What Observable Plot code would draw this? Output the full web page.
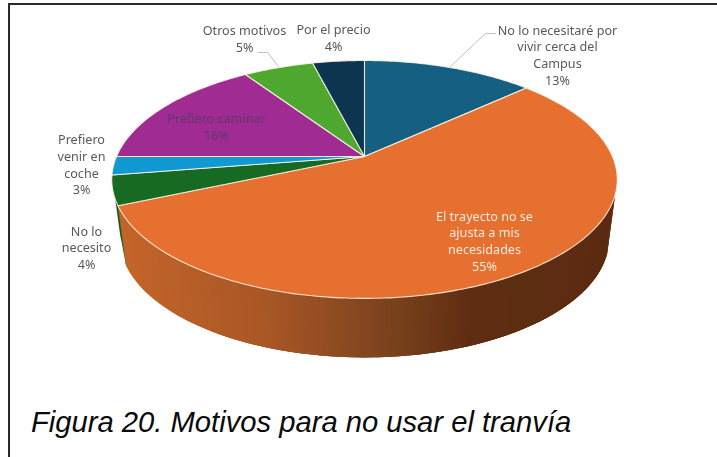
<!DOCTYPE html>
<html><head><meta charset="utf-8">
<script src="https://cdn.jsdelivr.net/npm/d3@7"></script>
<script src="https://cdn.jsdelivr.net/npm/@observablehq/plot@0.6"></script>
<style>
html,body{margin:0;padding:0;background:#fff;width:717px;height:457px;overflow:hidden}
#frame{position:absolute;left:8px;top:3px;right:-10px;bottom:-10px;border-left:2px solid #2a2a2a;border-top:2px solid #2a2a2a}
#chart{position:absolute;left:0;top:0}
#chart svg{filter:blur(.35px)}
#caption{position:absolute;left:31px;top:402px;font:italic 29.2px "Liberation Sans",Arial,sans-serif;color:#0a0a0a;white-space:nowrap;line-height:40px}
</style></head><body>
<div id="frame"></div><div id="chart"></div>
<div id="caption">Figura 20. Motivos para no usar el tranvía</div>
<script>
const categories = ["No lo necesitaré por\nvivir cerca del\nCampus","El trayecto no se\najusta a mis\nnecesidades","No lo\nnecesito","Prefiero\nvenir en\ncoche","Prefiero caminar","Otros motivos","Por el precio"];
const shares = [13.2,55.3,4.0,2.5,15.6,5.4,4.0];
const sliceColors = ["#145f82","#e6702f","#176a22","#1099d2","#a02b93","#4ea72e","#0c3650"];
const labelColors = ["#595959","#f7e9dd","#595959","#595959","#5f3a6e","#595959","#595959"];
const labelX = [557,484,86,81,216,244,333];
const labelY = [54,240,246.5,163.5,126,38,36.5];
const leaderLines = [[[258,52],[267,52],[278,66]],[[495,33],[485,33],[450,66]]];

const cx=364, apexY=156, R=248, A=84.4, C=-0.193, depth=59, bottomScale=0.968;
function rim(t){const a=t*2*Math.PI,u=-Math.cos(a),v=Math.sin(a),d=1+C*u;return {x:cx+R*v/d,y:(A*u+apexY)/d};}
function rimLow(t){const p=rim(t);return {x:cx+bottomScale*(p.x-cx),y:p.y+depth};}

let acc=0; const slices=shares.map((s,i)=>{const a0=acc/100;acc+=s;return {i,a0,a1:acc/100};});

const topPts=[];
slices.forEach(s=>{
  const n=Math.max(8,Math.round((s.a1-s.a0)*400));
  topPts.push({x:cx,y:apexY,id:s.i,color:sliceColors[s.i]});
  d3.range(n+1).forEach(k=>{const p=rim(s.a0+(s.a1-s.a0)*k/n);topPts.push({...p,id:s.i,color:sliceColors[s.i]});});
  topPts.push({x:cx,y:apexY,id:s.i,color:sliceColors[s.i]});
});

const shade=d3.scaleLinear().domain([118,270,400,470,620]).range(["#c6662b","#a85726","#77401c","#5e2d12","#5c2c12"]).clamp(true);
const sidePts=[];
function strip(t0,t1,id,color){
  const a=rim(t0),b=rim(t1),c=rimLow(t1),d=rimLow(t0);
  [a,b,c,d,a].forEach(p=>sidePts.push({x:p.x,y:p.y,id,color}));
}
const endOrange=slices[1].a1, n=300, t0=0.3;
// drawn from the dark side to the light side, every strip overlapping the next
d3.range(n).forEach(k=>{
  const a=t0+(endOrange-t0)*k/n,b=Math.min(endOrange,t0+(endOrange-t0)*(k+3)/n);
  strip(a,b,k,d3.color(shade(rimLow(a).x)).formatHex());
});
strip(slices[2].a0,slices[2].a1,1000,"#135a1d");

const leaders=leaderLines.flatMap((l,i)=>l.map(([x,y])=>({x,y,id:i})));
const labels=categories.map((c,i)=>({text:c+"\n"+Math.round(shares[i])+"%",x:labelX[i],y:labelY[i],color:labelColors[i]}));

const chart=Plot.plot({
  width:717,height:395,margin:0,
  style:{background:"transparent",overflow:"visible"},
  x:{domain:[0,717],range:[0,717],axis:null},
  y:{domain:[0,395],range:[0,395],axis:null},
  color:{type:"identity"},
  marks:[
    Plot.line(sidePts,{x:"x",y:"y",z:"id",fill:"color"}),
    Plot.line(topPts,{x:"x",y:"y",z:"id",fill:"color",stroke:"#fff6ea",strokeWidth:1.1,strokeOpacity:0.85,strokeLinejoin:"round"}),
    Plot.line(leaders,{x:"x",y:"y",z:"id",stroke:"#bfbfbf",strokeWidth:1}),
    Plot.text(labels,{x:"x",y:"y",text:"text",fill:"color",fontSize:12.6,lineHeight:1.33,fontFamily:"'Noto Sans',sans-serif",textAnchor:"middle"})
  ]
});
document.getElementById("chart").append(chart);
</script>
</body></html>
